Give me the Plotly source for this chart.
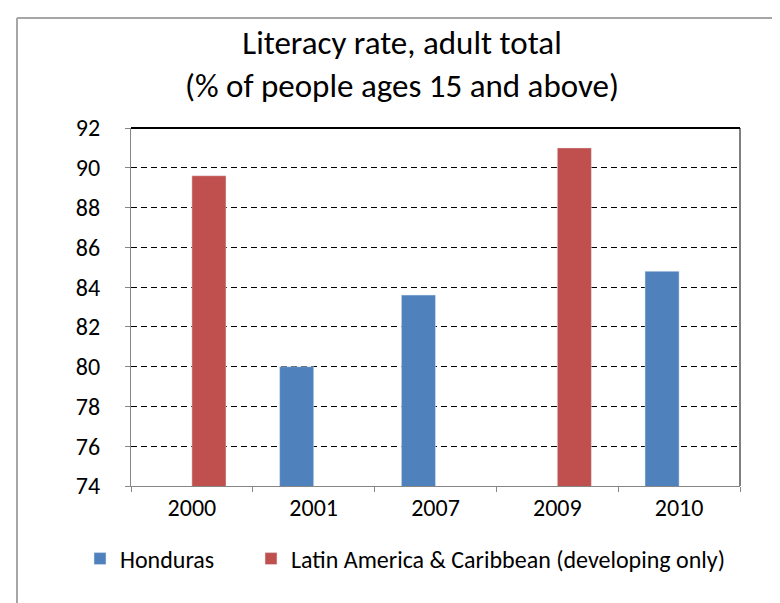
import plotly.graph_objects as go

years = ["2000", "2001", "2007", "2009", "2010"]
honduras = [None, 80.0, 83.6, None, 84.8]
latam = [89.6, None, None, 91.0, None]
y_ticks = [74, 76, 78, 80, 82, 84, 86, 88, 90, 92]

W, H = 780, 603
L, R, T, B = 123, 732, 120, 478
FONT = "Carlito, Calibri, 'Liberation Sans Narrow', 'DejaVu Sans Condensed', 'Open Sans', sans-serif"

def px(x):
    return (x - L) / (R - L)

def py(y):
    return (B - y) / (B - T)

fig = go.Figure()
fig.add_trace(go.Bar(name="Honduras", x=years, y=honduras, marker_color="#4F81BD",
                     legend="legend", showlegend=True))
fig.add_trace(go.Bar(name="Latin America & Caribbean (developing only)", x=years, y=latam,
                     marker_color="#C0504D", legend="legend2", showlegend=True))

legend_font = dict(size=24, family=FONT, color="black")

fig.update_layout(
    width=W, height=H,
    margin=dict(l=L, r=W - R, t=T, b=H - B, pad=0),
    paper_bgcolor="white", plot_bgcolor="white",
    barmode="group", bargap=0.44, bargroupgap=0,
    showlegend=True,
    font=dict(family=FONT, color="black"),
    title=dict(text="Literacy rate, adult total<br>(% of people ages 15 and above)",
               x=394 / W, xanchor="center", y=1 - 46 / H, yanchor="top",
               font=dict(size=33, family=FONT, color="black")),
    legend=dict(visible=True, orientation="h", x=px(72), xanchor="left", y=py(551),
                yanchor="middle", font=legend_font, itemwidth=30, bgcolor="rgba(0,0,0,0)"),
    legend2=dict(visible=True, orientation="h", x=px(243), xanchor="left", y=py(551),
                 yanchor="middle", font=legend_font, itemwidth=30, bgcolor="rgba(0,0,0,0)"),
    xaxis=dict(type="category", showline=True, linecolor="#868686", linewidth=1,
               ticks="outside", ticklen=5, tickcolor="#868686", tickson="boundaries",
               showgrid=False, tickfont=dict(size=24, family=FONT, color="black"),
               ticklabelstandoff=0),
    yaxis=dict(range=[74, 92], tickvals=y_ticks, showline=True, linecolor="#868686",
               linewidth=1, ticks="outside", ticklen=5, tickcolor="#868686",
               showgrid=True, gridcolor="black", gridwidth=1, griddash="6px,4px",
               zeroline=False, tickfont=dict(size=24, family=FONT, color="black"),
               ticklabelstandoff=20),
    shapes=[
        dict(type="line", xref="paper", yref="paper", x0=0, x1=1, y0=1, y1=1,
             line=dict(color="black", width=2)),
        dict(type="line", xref="paper", yref="paper", x0=1, x1=1, y0=0, y1=1,
             line=dict(color="black", width=1)),
        dict(type="line", xref="paper", yref="paper", x0=px(9), x1=px(W + 5), y0=py(10), y1=py(10),
             line=dict(color="#A6A6A6", width=2)),
        dict(type="line", xref="paper", yref="paper", x0=px(9), x1=px(9), y0=py(10), y1=py(H + 5),
             line=dict(color="#A6A6A6", width=2)),
    ],
)

fig.write_html("out.html")
